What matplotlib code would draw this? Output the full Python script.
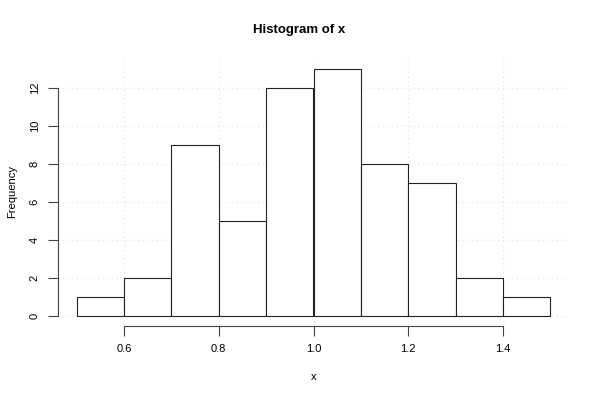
import numpy as np
import matplotlib
matplotlib.use('Agg')
from matplotlib import pyplot as plt

# bin edges and counts
edges = [0.5, 0.6, 0.7, 0.8, 0.9, 1.0, 1.1, 1.2, 1.3, 1.4, 1.5]
counts = [1, 2, 9, 5, 12, 13, 8, 7, 2, 1]
xticks = [0.6, 0.8, 1.0, 1.2, 1.4]
yticks = [0, 2, 4, 6, 8, 10, 12]

plt.rcParams['font.family'] = ['Liberation Sans', 'DejaVu Sans']

fig = plt.figure(figsize=(5.99, 4.0), dpi=100)
ax = fig.add_axes([57.7/599, 1-325.9/400, (569.3-57.7)/599, (325.9-59.1)/400])

ax.set_xlim(0.46, 1.54)
ax.set_ylim(-0.52, 13.52)

# dotted grid like R's grid()
for v in xticks:
    ax.axvline(v, color='#e2e2e2', lw=0.8, ls=(0, (1, 3)), zorder=0)
for v in yticks:
    ax.axhline(v, color='#e2e2e2', lw=0.8, ls=(0, (1, 3)), zorder=0)

widths = np.diff(edges)
ax.bar(edges[:-1], counts, width=widths, align='edge', color='white',
       edgecolor='#222222', linewidth=0.8, zorder=2)

for s in ['top', 'right']:
    ax.spines[s].set_visible(False)
ax.spines['left'].set_bounds(0, 12)
ax.spines['bottom'].set_bounds(0.6, 1.4)
for s in ['left', 'bottom']:
    ax.spines[s].set_color('#444444')
    ax.spines[s].set_linewidth(0.8)

ax.set_xticks(xticks)
ax.set_xticklabels(['0.6', '0.8', '1.0', '1.2', '1.4'])
ax.set_yticks(yticks)
ax.set_yticklabels([str(v) for v in yticks], rotation=90, va='center')
ax.tick_params(length=7, width=0.8, color='#444444', labelsize=8, pad=6)

fig.text(314/599, 1-377/400, 'x', ha='center', va='center', fontsize=8)
fig.text(12/599, 1-192/400, 'Frequency', ha='center', va='center',
         rotation=90, fontsize=8)
fig.text(0.5, 1-30/400, 'Histogram of x', ha='center', va='center',
         fontsize=9.5, fontweight='bold')

fig.savefig('out.png', dpi=100)
